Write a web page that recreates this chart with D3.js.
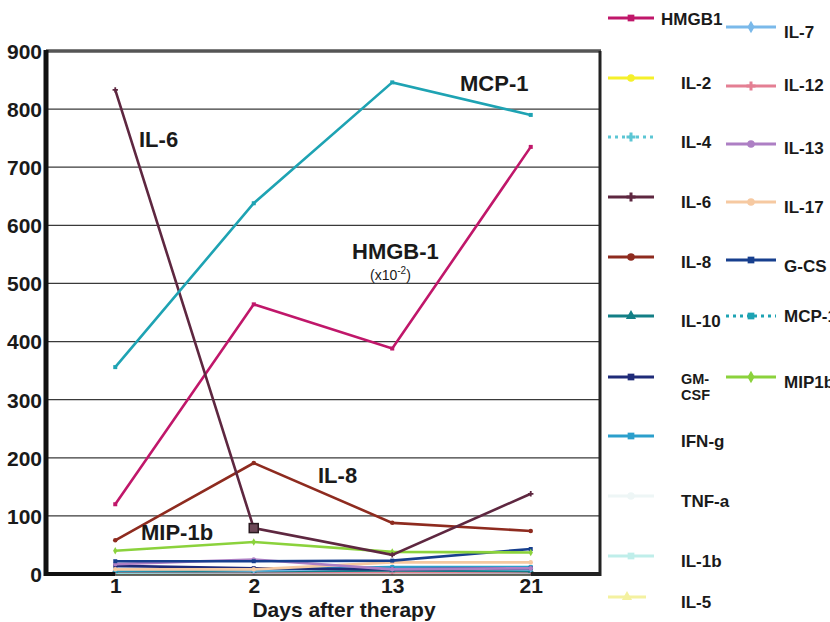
<!DOCTYPE html>
<html>
<head>
<meta charset="utf-8">
<script src="https://cdn.jsdelivr.net/npm/d3@7"></script>
<style>
  body { margin: 0; background: #fff; }
  text { font-family: "Liberation Sans", Arial, sans-serif; font-weight: bold; fill: #1a1a1a; }
</style>
</head>
<body>
<div id="chart"></div>
<script>
// days after therapy (categorical x)
var days = ["1", "2", "13", "21"];
var yTicks = [0, 100, 200, 300, 400, 500, 600, 700, 800, 900];

// series values
var hmgb1 = [120, 464, 388, 735];
var il2 = [2, 2, 2, 2];
var il4 = [3, 3, 4, 3];
var il6 = [833, 79, 33, 138];
var il8 = [58, 191, 88, 74];
var il10 = [5, 5, 6, 5];
var gmcsf = [14, 10, 8, 10];
var ifng = [6, 8, 12, 12];
var tnfa = [1, 1, 1, 1];
var il1b = [2, 2, 2, 2];
var il5 = [1, 1, 1, 1];
var il7 = [9, 6, 10, 8];
var il12 = [4, 3, 3, 3];
var il13 = [17, 25, 8, 10];
var il17 = [8, 8, 20, 20];
var gcsf = [22, 22, 23, 43];
var mcp1 = [356, 638, 846, 790];
var mip1b = [40, 55, 38, 37];

var seriesNames = ["HMGB1", "IL-2", "IL-4", "IL-6", "IL-8", "IL-10", "GM-CSF", "IFN-g", "TNF-a", "IL-1b", "IL-5",
                   "IL-7", "IL-12", "IL-13", "IL-17", "G-CS", "MCP-1", "MIP1b"];
var seriesValues = [hmgb1, il2, il4, il6, il8, il10, gmcsf, ifng, tnfa, il1b, il5,
                    il7, il12, il13, il17, gcsf, mcp1, mip1b];
var seriesColors = ["#c0176a", "#f5f02a", "#5cc6d4", "#5e2740", "#8e2b1f", "#137f86", "#1f2b78", "#2b9fcc", "#eef6f6", "#bfeeea", "#f4f1a0",
                    "#7ab9ea", "#e47f93", "#ad7fc4", "#f6c9a1", "#173f8e", "#1ea3b3", "#8bd23c"];
var seriesSymbols = [d3.symbolSquare, d3.symbolCircle, d3.symbolCross, d3.symbolCross, d3.symbolCircle, d3.symbolTriangle, d3.symbolSquare, d3.symbolSquare, d3.symbolCircle, d3.symbolSquare, d3.symbolTriangle,
                     d3.symbolDiamond, d3.symbolCross, d3.symbolCircle, d3.symbolCircle, d3.symbolSquare, d3.symbolSquare, d3.symbolDiamond];
var legendDotted = ["IL-4", "MCP-1"];

// legend rows: line y and text baseline y, as seen in the picture
var legendCol1Y = [18, 78, 137, 197, 257, 316, 377, 436, 496, 556, 597];
var legendCol2Y = [27, 86, 144, 202, 260, 316, 377];
var legendCol2Text = [38, 91, 154, 213, 272, 322, 388];

function init() {
    var w = 830, h = 622;
    var left = 46, right = 600, top = 51, bottom = 574;

    var svg = d3.select("#chart").append("svg")
        .attr("width", w)
        .attr("height", h);

    var xScale = d3.scalePoint().domain(days).range([left, right]).padding(0.5);
    var yScale = d3.scaleLinear().domain([0, 900]).range([bottom, top]);

    // gridlines
    svg.append("g").selectAll("line")
        .data(yTicks.filter(function(t) { return t > 0 && t < 900; }))
        .join("line")
        .attr("x1", left).attr("x2", right)
        .attr("y1", function(d) { return yScale(d); })
        .attr("y2", function(d) { return yScale(d); })
        .attr("stroke", "#3a3a3a")
        .attr("stroke-width", 1.3);

    // frame
    svg.append("line").attr("x1", left).attr("x2", right + 1).attr("y1", top).attr("y2", top)
        .attr("stroke", "#555").attr("stroke-width", 3.5);
    svg.append("line").attr("x1", right).attr("x2", right).attr("y1", top).attr("y2", bottom + 2)
        .attr("stroke", "#222").attr("stroke-width", 3);

    // y axis
    var yAxis = d3.axisLeft(yScale).tickValues(yTicks).tickSize(0).tickPadding(4);
    var gy = svg.append("g").attr("transform", "translate(" + left + ",0)").call(yAxis);
    gy.select(".domain").remove();
    gy.selectAll("text").style("font-size", "21px").style("font-family", "Liberation Sans, Arial, sans-serif")
        .style("font-weight", "bold").attr("fill", "#1a1a1a").attr("dy", "0.35em");

    // x axis
    var xAxis = d3.axisBottom(xScale).tickSize(0).tickPadding(4);
    var gx = svg.append("g").attr("transform", "translate(0," + bottom + ")").call(xAxis);
    gx.select(".domain").remove();
    gx.selectAll("text").style("font-size", "21px").style("font-family", "Liberation Sans, Arial, sans-serif")
        .style("font-weight", "bold").attr("fill", "#1a1a1a");

    svg.append("text").attr("x", 344).attr("y", 617).attr("text-anchor", "middle")
        .style("font-size", "21px").text("Days after therapy");

    // lines, low values first so the big ones sit on top
    var line = d3.line()
        .x(function(d, i) { return xScale(days[i]); })
        .y(function(d) { return yScale(d); });

    var order = d3.range(seriesNames.length).sort(function(a, b) {
        return d3.max(seriesValues[a]) - d3.max(seriesValues[b]);
    });

    order.forEach(function(k) {
        svg.append("path")
            .datum(seriesValues[k])
            .attr("fill", "none")
            .attr("stroke", seriesColors[k])
            .attr("stroke-width", 2.6)
            .attr("d", line);
        svg.append("g").selectAll("path")
            .data(seriesValues[k])
            .join("path")
            .attr("transform", function(d, i) { return "translate(" + xScale(days[i]) + "," + yScale(d) + ")"; })
            .attr("d", d3.symbol().type(seriesSymbols[k]).size(16))
            .attr("fill", seriesColors[k]);
    });

    // IL-6 square marker at day 2
    svg.append("rect")
        .attr("x", xScale("2") - 4.5).attr("y", yScale(il6[1]) - 4.5)
        .attr("width", 9).attr("height", 9)
        .attr("fill", "#6e4858").attr("stroke", "#2a1a20").attr("stroke-width", 1.5);

    // left and bottom axes drawn thick on top
    svg.append("line").attr("x1", left).attr("x2", left).attr("y1", top - 1).attr("y2", bottom + 2)
        .attr("stroke", "#111").attr("stroke-width", 5);
    svg.append("line").attr("x1", left - 2).attr("x2", xScale("1")).attr("y1", bottom).attr("y2", bottom)
        .attr("stroke", "#111").attr("stroke-width", 4);
    svg.append("line").attr("x1", xScale("21")).attr("x2", right + 1).attr("y1", bottom).attr("y2", bottom)
        .attr("stroke", "#222").attr("stroke-width", 4);
    svg.append("line").attr("x1", xScale("1")).attr("x2", xScale("21")).attr("y1", bottom + 1).attr("y2", bottom + 1)
        .attr("stroke", "#333").attr("stroke-width", 1.5);

    // annotations
    var notes = [
        {t: "IL-6", x: 139, y: 147},
        {t: "MCP-1", x: 460, y: 91},
        {t: "HMGB-1", x: 352, y: 259},
        {t: "IL-8", x: 318, y: 483},
        {t: "MIP-1b", x: 141, y: 540}
    ];
    svg.append("g").selectAll("text").data(notes).join("text")
        .attr("x", function(d) { return d.x; })
        .attr("y", function(d) { return d.y; })
        .style("font-size", "22px")
        .text(function(d) { return d.t; });
    var sub = svg.append("text").attr("x", 370).attr("y", 280)
        .style("font-size", "14px").style("font-weight", "normal");
    sub.append("tspan").text("(x10");
    sub.append("tspan").attr("dy", -6).style("font-size", "10px").text("-2");
    sub.append("tspan").attr("dy", 6).text(")");

    // legend: two columns
    function legendItem(name, lx, ly, len, tx, ty) {
        var k = seriesNames.indexOf(name);
        var g = svg.append("g");
        g.append("line")
            .attr("x1", lx).attr("x2", lx + len).attr("y1", ly).attr("y2", ly)
            .attr("stroke", seriesColors[k]).attr("stroke-width", 3)
            .attr("stroke-dasharray", legendDotted.indexOf(name) >= 0 ? "3,4" : null);
        g.append("path")
            .attr("transform", "translate(" + (lx + len / 2) + "," + ly + ")")
            .attr("d", d3.symbol().type(seriesSymbols[k]).size(45))
            .attr("fill", seriesColors[k]);
        if (name === "GM-CSF") {
            g.append("text").attr("x", tx).attr("y", ty - 4).style("font-size", "14.5px").text("GM-");
            g.append("text").attr("x", tx).attr("y", ty + 12).style("font-size", "14.5px").text("CSF");
        } else {
            g.append("text").attr("x", tx).attr("y", ty).style("font-size", "17px").text(name);
        }
    }

    seriesNames.slice(0, 11).forEach(function(name, i) {
        var ly = legendCol1Y[i];
        var tx = i === 0 ? 661 : 681;
        var ty = i === 0 ? 25 : ly + 11;
        legendItem(name, 608, ly, i === 10 ? 38 : 46, tx, ty);
    });
    seriesNames.slice(11).forEach(function(name, i) {
        legendItem(name, 726, legendCol2Y[i], 50, 784, legendCol2Text[i]);
    });
}
window.onload = init;
</script>
</body>
</html>
